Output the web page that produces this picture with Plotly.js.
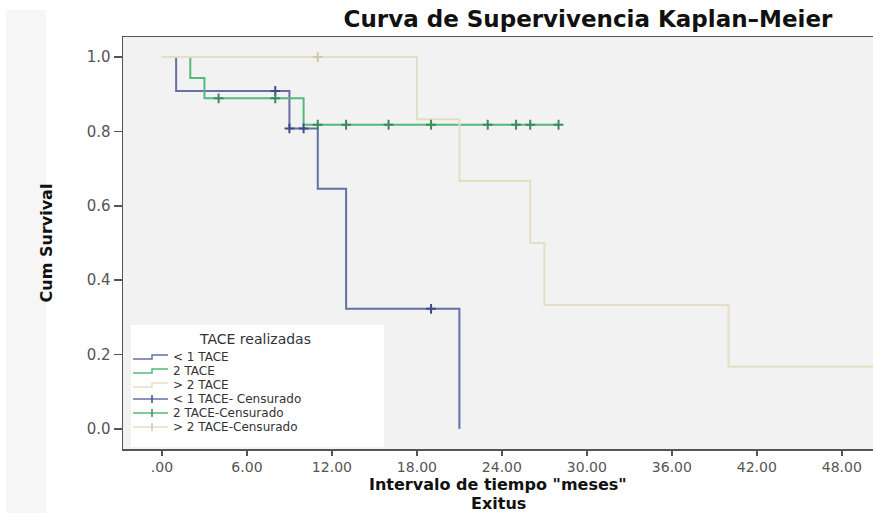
<!DOCTYPE html>
<html><head><meta charset="utf-8">
<script src="https://cdn.plot.ly/plotly-3.0.1.min.js"></script>
<style>html,body{margin:0;padding:0;background:#fff;}#chart{width:873px;height:513px;}</style>
</head><body><div id="chart"></div>
<script>
// ---------- data ----------
const groupNames = ['< 1 TACE', '2 TACE', '> 2 TACE'];
const censorNames = ['< 1 TACE- Censurado', '2 TACE-Censurado', '> 2 TACE-Censurado'];
const legendTitle = 'TACE realizadas';

const lt1Times = [0, 1, 9, 11, 13, 21];
const lt1Surv = [1.0, 0.909, 0.808, 0.646, 0.323, 0.0];
const lt1CensTimes = [8, 9, 10, 19];
const lt1CensSurv = [0.909, 0.808, 0.808, 0.323];

const t2Times = [0, 2, 3, 10, 28];
const t2Surv = [1.0, 0.944, 0.889, 0.818, 0.818];
const t2CensTimes = [4, 8, 11, 13, 16, 19, 23, 25, 26, 28];
const t2CensSurv = [0.889, 0.889, 0.818, 0.818, 0.818, 0.818, 0.818, 0.818, 0.818, 0.818];

const gt2Times = [0, 18, 21, 26, 27, 40, 52];
const gt2Surv = [1.0, 0.833, 0.667, 0.5, 0.333, 0.167, 0.167];
const gt2CensTimes = [11];
const gt2CensSurv = [1.0];

const xTickVals = [0, 6, 12, 18, 24, 30, 36, 42, 48];
const xTickText = ['.00', '6.00', '12.00', '18.00', '24.00', '30.00', '36.00', '42.00', '48.00'];
const yTickVals = [0, 0.2, 0.4, 0.6, 0.8, 1.0];
const yTickText = ['0.0', '0.2', '0.4', '0.6', '0.8', '1.0'];

// ---------- styles ----------
const lineColors = ['#6470a8', '#55b87c', '#e4dfc4'];
const censColors = ['#3e4c85', '#3c8a5e', '#cfc9aa'];

const curves = [
  {x: lt1Times, y: lt1Surv, cx: lt1CensTimes, cy: lt1CensSurv},
  {x: t2Times, y: t2Surv, cx: t2CensTimes, cy: t2CensSurv},
  {x: gt2Times, y: gt2Surv, cx: gt2CensTimes, cy: gt2CensSurv}
];

const traces = [];
curves.forEach((c, i) => {
  traces.push({type: 'scatter', mode: 'lines', x: c.x, y: c.y, name: groupNames[i],
    line: {shape: 'hv', color: lineColors[i], width: 2}, showlegend: false, hoverinfo: 'x+y'});
});
curves.forEach((c, i) => {
  traces.push({type: 'scatter', mode: 'markers', x: c.cx, y: c.cy, name: censorNames[i],
    marker: {symbol: 'cross-thin', size: 7, line: {color: censColors[i], width: 2}},
    showlegend: false, hoverinfo: 'x+y'});
});

// ---------- layout helpers (pixel -> paper) ----------
const W = 873, H = 513, ML = 123, MR = 0, MT = 37, MB = 64;
const PW = W - ML - MR, PH = H - MT - MB;
const px = v => (v - ML) / PW;
const py = v => (MT + PH - v) / PH;

const shapes = [];
const annotations = [];

// faint band at page left
shapes.push({type: 'rect', xref: 'paper', yref: 'paper', x0: px(6), x1: px(46), y0: py(513), y1: py(10),
  fillcolor: '#f6f6f6', line: {width: 0}, layer: 'below'});

// legend box
shapes.push({type: 'rect', xref: 'paper', yref: 'paper', x0: px(131), x1: px(384), y0: py(447), y1: py(325),
  fillcolor: '#ffffff', line: {width: 0}, layer: 'above'});
annotations.push({xref: 'paper', yref: 'paper', x: px(255), y: py(339), text: legendTitle, showarrow: false,
  xanchor: 'center', yanchor: 'middle', font: {family: 'DejaVu Sans', size: 14, color: '#333'}});

const rowY = [357, 371, 385, 399, 413, 427];
groupNames.forEach((g, i) => {
  const yc = rowY[i];
  shapes.push({type: 'path', xref: 'paper', yref: 'paper',
    path: `M ${px(133)} ${py(yc + 2)} L ${px(152)} ${py(yc + 2)} L ${px(152)} ${py(yc - 2)} L ${px(168)} ${py(yc - 2)}`,
    line: {color: lineColors[i], width: 1.5}});
  annotations.push({xref: 'paper', yref: 'paper', x: px(171), y: py(yc), text: g, showarrow: false,
    xanchor: 'left', yanchor: 'middle', font: {family: 'DejaVu Sans', size: 12, color: '#333'}});
});
censorNames.forEach((g, i) => {
  const yc = rowY[i + 3];
  shapes.push({type: 'line', xref: 'paper', yref: 'paper', x0: px(133), x1: px(168), y0: py(yc), y1: py(yc),
    line: {color: lineColors[i], width: 1.5}});
  shapes.push({type: 'line', xref: 'paper', yref: 'paper', x0: px(152), x1: px(152), y0: py(yc - 4), y1: py(yc + 4),
    line: {color: censColors[i], width: 1.5}});
  annotations.push({xref: 'paper', yref: 'paper', x: px(171), y: py(yc), text: g, showarrow: false,
    xanchor: 'left', yanchor: 'middle', font: {family: 'DejaVu Sans', size: 12, color: '#333'}});
});

// x-axis title, two lines
annotations.push({xref: 'paper', yref: 'paper', x: px(498), y: py(484), text: 'Intervalo de tiempo "meses"', showarrow: false,
  xanchor: 'center', yanchor: 'middle', font: {family: 'DejaVu Sans', size: 16, color: '#111', weight: 'bold'}});
annotations.push({xref: 'paper', yref: 'paper', x: px(498), y: py(503.5), text: 'Exitus', showarrow: false,
  xanchor: 'center', yanchor: 'middle', font: {family: 'DejaVu Sans', size: 16, color: '#111', weight: 'bold'}});

const layout = {
  width: W, height: H,
  margin: {l: ML, r: MR, t: MT, b: MB, pad: 0},
  paper_bgcolor: '#ffffff', plot_bgcolor: '#f2f2f2',
  showlegend: false,
  title: {text: 'Curva de Supervivencia Kaplan\u2013Meier', xref: 'container', yref: 'container',
    x: 588 / W, y: 1 - 19 / H, xanchor: 'center', yanchor: 'middle',
    font: {family: 'DejaVu Sans', size: 23, color: '#111', weight: 'bold'}},
  xaxis: {range: [-2.75, 50.2], tickvals: xTickVals, ticktext: xTickText,
    showline: true, linecolor: '#555', linewidth: 1.5, mirror: true,
    ticks: 'outside', ticklen: 5, tickwidth: 1.5, tickcolor: '#555',
    showgrid: false, zeroline: false,
    tickfont: {family: 'DejaVu Sans', size: 14, color: '#555'}},
  yaxis: {range: [-0.054, 1.054], tickvals: yTickVals, ticktext: yTickText,
    showline: true, linecolor: '#555', linewidth: 1.5, mirror: false,
    ticks: 'outside', ticklen: 8, tickwidth: 1.5, tickcolor: '#555',
    showgrid: false, zeroline: false,
    tickfont: {family: 'DejaVu Sans', size: 15, color: '#555'},
    title: {text: 'Cum Survival', standoff: 30,
      font: {family: 'DejaVu Sans', size: 16, color: '#111', weight: 'bold'}}},
  shapes: shapes,
  annotations: annotations
};

Plotly.newPlot('chart', traces, layout, {displayModeBar: false, staticPlot: true});
</script></body></html>
